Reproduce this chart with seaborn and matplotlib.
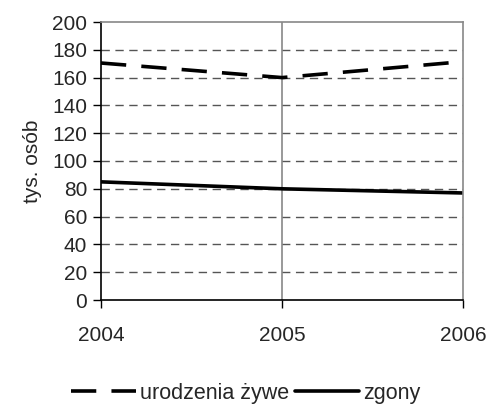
import pandas as pd
import matplotlib.pyplot as plt
import seaborn as sns

# data
years = [2004, 2005, 2006]
urodzenia = [170.5, 160.0, 171.5]
zgony = [85.0, 80.0, 77.0]
series_names = ["urodzenia żywe", "zgony"]

df = pd.DataFrame({
    "rok": years * 2,
    "wartosc": urodzenia + zgony,
    "seria": [series_names[0]] * 3 + [series_names[1]] * 3,
})

sns.set_style("white")
plt.rcParams['font.family'] = ['Liberation Sans', 'DejaVu Sans']

fig = plt.figure(figsize=(4.92, 4.05), dpi=100)
ax = fig.add_axes([101 / 492, 105 / 405, 362 / 492, 278 / 405])

sns.lineplot(data=df, x="rok", y="wartosc", style="seria", ax=ax,
             color="black", linewidth=2.6,
             dashes={series_names[0]: (7, 4.2), series_names[1]: ""},
             legend=False)

ax.set_xlim(2004, 2006)
ax.set_ylim(0, 200)
ax.set_yticks(range(0, 201, 20))
ax.set_xticks(years)
ax.set_xticklabels([str(y) for y in years])

# horizontal dashed grid, single vertical grey line at 2005
for yv in range(20, 200, 20):
    ax.axhline(yv, color="#555555", linewidth=1, linestyle=(0, (6, 4)), zorder=0)
ax.axvline(2005, color="#888888", linewidth=1.2, zorder=0)

for side in ["top", "right"]:
    ax.spines[side].set_color("#888888")
    ax.spines[side].set_linewidth(1.2)
for side in ["left", "bottom"]:
    ax.spines[side].set_color("black")
    ax.spines[side].set_linewidth(1.2)

ax.tick_params(axis="both", direction="out", length=6, width=1, color="black",
               labelsize=15, left=True, bottom=True)
ax.tick_params(axis="x", pad=13)
ax.tick_params(axis="y", pad=4)
ax.set_xlabel("")
ax.set_ylabel("tys. osób", fontsize=15, labelpad=7)

# legend below the plot
handles = [
    plt.Line2D([], [], color="black", linewidth=2.6, dashes=(7, 4.2)),
    plt.Line2D([], [], color="black", linewidth=2.6),
]
fig.legend(handles, series_names, loc="center", bbox_to_anchor=(0.5, 1 - 393 / 405),
           ncol=2, frameon=False, fontsize=15.5, handlelength=3.0,
           handletextpad=0.2, columnspacing=0.25)

fig.savefig("out.png", dpi=100)
